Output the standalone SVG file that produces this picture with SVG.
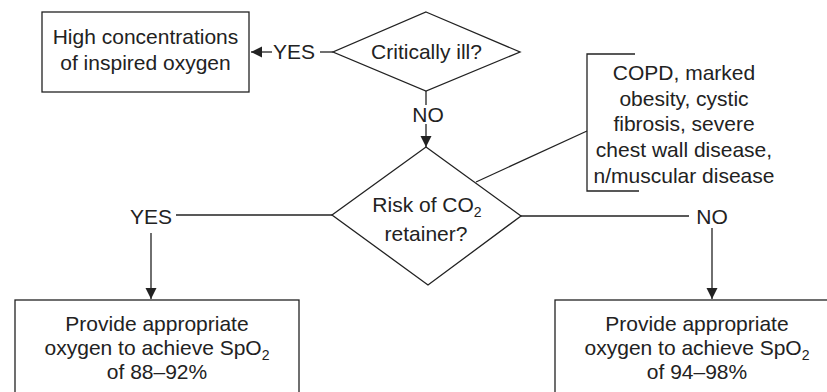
<svg xmlns="http://www.w3.org/2000/svg" width="827" height="392" viewBox="0 0 827 392">
  <style>
    .shape { fill: #ffffff; stroke: #222222; stroke-width: 1.3; }
    .wire { fill: none; stroke: #222222; stroke-width: 1.3; }
    .lbl { font-family: "Liberation Sans", Arial, Helvetica, sans-serif; font-size: 21px; fill: #222222; text-anchor: middle; }
    .sub { font-size: 14px; }
  </style>
  <defs>
    <marker id="arrow" markerUnits="userSpaceOnUse" markerWidth="12" markerHeight="12" viewBox="0 0 12 12" refX="11" refY="6" orient="auto">
      <path d="M0,0.5 L11,6 L0,11.5 Z" fill="#222222"/>
    </marker>
  </defs>

  <rect width="827" height="392" fill="#ffffff"/>

  <!-- connectors -->
  <g id="connectors">
    <!-- Critically ill? -> YES -> high concentrations -->
    <line class="wire" x1="333" y1="52" x2="320" y2="52"/>
    <line class="wire" x1="272" y1="52" x2="251" y2="52" marker-end="url(#arrow)"/>
    <text class="lbl" x="294" y="59">YES</text>
    <!-- Critically ill? -> NO -> Risk of CO2 -->
    <line class="wire" x1="426" y1="91" x2="426" y2="105"/>
    <line class="wire" x1="426" y1="124" x2="426" y2="147" marker-end="url(#arrow)"/>
    <text class="lbl" x="428" y="122">NO</text>
    <!-- Risk of CO2 -> YES -->
    <line class="wire" x1="332" y1="215" x2="176" y2="215"/>
    <text class="lbl" x="151" y="224">YES</text>
    <line class="wire" x1="151" y1="233" x2="151" y2="299" marker-end="url(#arrow)"/>
    <!-- Risk of CO2 -> NO -->
    <line class="wire" x1="521" y1="216" x2="689" y2="216"/>
    <text class="lbl" x="712" y="224">NO</text>
    <line class="wire" x1="712" y1="228" x2="712" y2="299" marker-end="url(#arrow)"/>
    <!-- note leader -->
    <line class="wire" x1="587" y1="131" x2="476" y2="182"/>
  </g>

  <g id="high-oxygen">
    <rect class="shape" x="42" y="12" width="207" height="80"/>
    <text class="lbl" x="145.5" y="44">High concentrations</text>
    <text class="lbl" x="145.5" y="70">of inspired oxygen</text>
  </g>

  <g id="critically-ill">
    <polygon class="shape" points="426,12 520,52 426,91 333,52"/>
    <text class="lbl" x="426.5" y="59">Critically ill?</text>
  </g>

  <g id="co2-risk">
    <polygon class="shape" points="426,147 521,216 428,285 332,215"/>
    <text class="lbl" x="427" y="212">Risk of CO<tspan class="sub" dy="5">2</tspan></text>
    <text class="lbl" x="426" y="241">retainer?</text>
  </g>

  <g id="risk-note">
    <path class="wire" d="M635,54 H587 V191 H639"/>
    <text class="lbl" x="684" y="80">COPD, marked</text>
    <text class="lbl" x="684" y="106">obesity, cystic</text>
    <text class="lbl" x="684" y="131">fibrosis, severe</text>
    <text class="lbl" x="684" y="157">chest wall disease,</text>
    <text class="lbl" x="684" y="183">n/muscular disease</text>
  </g>

  <g id="target-88-92">
    <rect class="shape" x="15" y="300" width="284" height="110"/>
    <text class="lbl" x="157" y="331">Provide appropriate</text>
    <text class="lbl" x="157" y="355">oxygen to achieve SpO<tspan class="sub" dy="5">2</tspan></text>
    <text class="lbl" x="157" y="379">of 88–92%</text>
  </g>

  <g id="target-94-98">
    <rect class="shape" x="555" y="300" width="284" height="110"/>
    <text class="lbl" x="697" y="331">Provide appropriate</text>
    <text class="lbl" x="697" y="355">oxygen to achieve SpO<tspan class="sub" dy="5">2</tspan></text>
    <text class="lbl" x="697" y="379">of 94–98%</text>
  </g>
</svg>
